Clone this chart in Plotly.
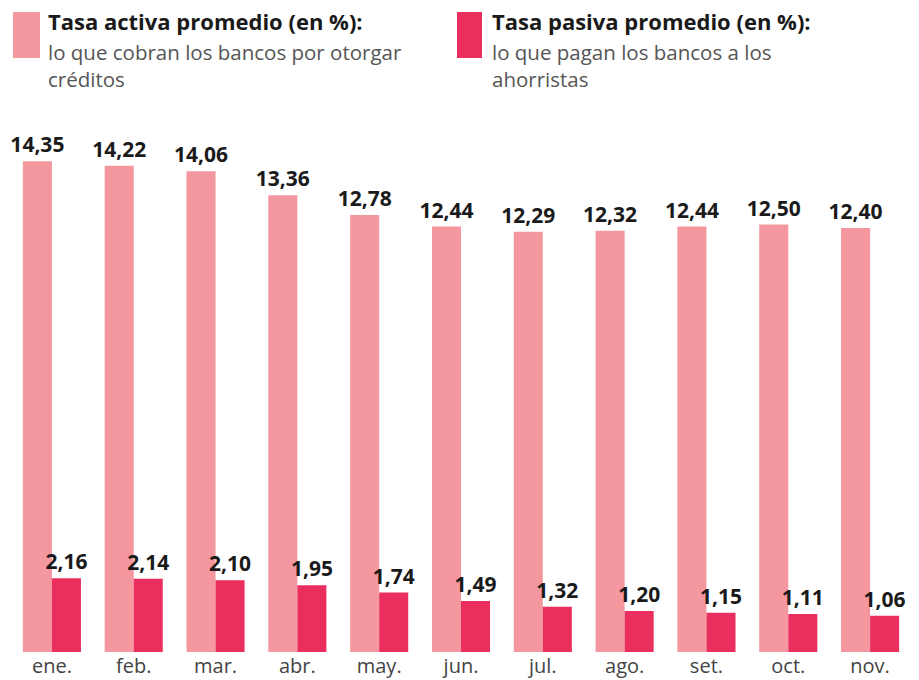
import plotly.graph_objects as go

months = ["ene.", "feb.", "mar.", "abr.", "may.", "jun.", "jul.", "ago.", "set.", "oct.", "nov."]
tasa_activa = [14.35, 14.22, 14.06, 13.36, 12.78, 12.44, 12.29, 12.32, 12.44, 12.50, 12.40]
tasa_pasiva = [2.16, 2.14, 2.10, 1.95, 1.74, 1.49, 1.32, 1.20, 1.15, 1.11, 1.06]

legend_titles = ["Tasa activa promedio (en %):", "Tasa pasiva promedio (en %):"]
legend_subs = ["lo que cobran los bancos por otorgar<br>créditos", "lo que pagan los bancos a los<br>ahorristas"]

PINK = "#F4979F"
RED = "#EA2F5E"
FONT = "Open Sans"

W, H = 919, 680
ML, MR, MT, MB = 11, 8, 150, 28
pw, ph = W - ML - MR, H - MT - MB


def px(x):
    return (x - ML) / pw


def py(y):
    return (H - MB - y) / ph


fig = go.Figure()
for vals, col in [(tasa_activa, PINK), (tasa_pasiva, RED)]:
    fig.add_trace(go.Bar(
        x=months, y=vals, marker=dict(color=col, line=dict(width=0)),
        texttemplate="%{y:.2f}", textposition="outside", cliponaxis=False,
        constraintext="none",
        textfont=dict(family=FONT, size=21, color="#1a1a1a", weight="bold"),
        showlegend=False, hoverinfo="skip",
    ))

# legend squares + texts
for sx0, sx1, col, tx, title, sub in [
    (13, 40, PINK, 46, legend_titles[0], legend_subs[0]),
    (457, 482, RED, 490, legend_titles[1], legend_subs[1]),
]:
    fig.add_shape(type="rect", xref="paper", yref="paper",
                  x0=px(sx0), x1=px(sx1), y0=py(58), y1=py(12),
                  fillcolor=col, line=dict(width=0))
    fig.add_annotation(xref="paper", yref="paper", x=px(tx), y=py(21),
                       xanchor="left", yanchor="middle", showarrow=False,
                       text=title, font=dict(family=FONT, size=22, color="#1a1a1a", weight="bold"))
    fig.add_annotation(xref="paper", yref="paper", x=px(tx), y=py(36),
                       xanchor="left", yanchor="top", showarrow=False, align="left",
                       text=sub, font=dict(family=FONT, size=20.5, color="#555555"))

fig.update_layout(
    width=W, height=H,
    margin=dict(l=ML, r=MR, t=MT, b=MB),
    paper_bgcolor="white", plot_bgcolor="white",
    barmode="group", bargap=0.29, bargroupgap=0.0,
    separators=",.",
    xaxis=dict(showgrid=False, showline=False, ticks="", automargin=False,
               tickfont=dict(family=FONT, size=20, color="#444444")),
    yaxis=dict(visible=False, range=[0, 14.68], automargin=False),
)

fig.write_html("out.html")
